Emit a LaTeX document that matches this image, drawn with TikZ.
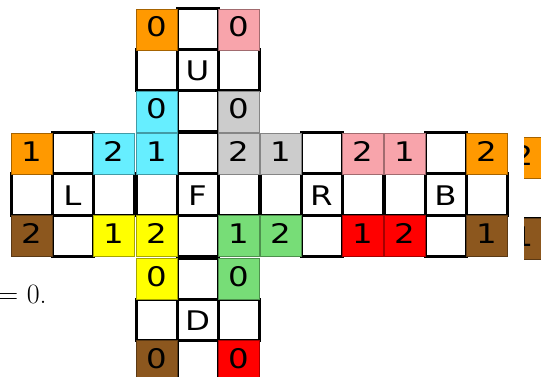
\documentclass[tikz,border=0pt]{standalone}
\usepackage{fontspec}
\newfontfamily\cellfont[FakeStretch=1.2]{DejaVu Sans}
\newfontfamily\eqfont{Latin Modern Roman}
\definecolor{cor}{RGB}{255,153,0}
\definecolor{cpk}{RGB}{248,164,171}
\definecolor{ccy}{RGB}{102,238,255}
\definecolor{cgy}{RGB}{204,204,204}
\definecolor{cye}{RGB}{255,255,0}
\definecolor{cgr}{RGB}{119,221,119}
\definecolor{crd}{RGB}{255,0,0}
\definecolor{cbr}{RGB}{140,87,30}
\tikzset{
  cellbase/.style={rectangle, minimum size=41pt, inner sep=0pt, outer sep=0pt, anchor=north west,
    font=\cellfont\fontsize{27}{27}\selectfont},
  wcell/.style={cellbase, fill=white, draw=black, line width=3pt, text height=21pt, text depth=0pt},
  ccell/.style={cellbase, fill=#1, draw=#1!65!black, line width=0.9pt, text height=20pt, text depth=5pt},
}
\begin{document}
\begin{tikzpicture}[x=1pt,y=-1pt]
\clip (0,0) rectangle (541,377);
\fill[white] (0,0) rectangle (541,377);
\def\xs{{11,52,93,136,177,218,260,301,342,384,425,466}}
\def\ys{{9,50,91,133,174,215,258,299,340}}
% white cells
\foreach \c/\r/\t in {4/0/,3/1/,4/1/U,5/1/,4/2/,
  1/3/,4/3/,7/3/,10/3/,
  0/4/,1/4/L,2/4/,3/4/,4/4/F,5/4/,6/4/,7/4/R,8/4/,9/4/,10/4/B,11/4/,
  1/5/,4/5/,7/5/,10/5/,
  4/6/,3/7/,4/7/D,5/7/,4/8/}{
  \pgfmathsetmacro\px{\xs[\c]}
  \pgfmathsetmacro\py{\ys[\r]}
  \node[wcell] (c-\c-\r) at (\px,\py) {\t};
}
% coloured cells
\foreach \c/\r/\k/\t in {3/0/cor/0,5/0/cpk/0,3/2/ccy/0,5/2/cgy/0,
  0/3/cor/1,2/3/ccy/2,3/3/ccy/1,5/3/cgy/2,6/3/cgy/1,8/3/cpk/2,9/3/cpk/1,11/3/cor/2,
  0/5/cbr/2,2/5/cye/1,3/5/cye/2,5/5/cgr/1,6/5/cgr/2,8/5/crd/1,9/5/crd/2,11/5/cbr/1,
  3/6/cye/0,5/6/cgr/0,3/8/cbr/0,5/8/crd/0}{
  \pgfmathsetmacro\px{\xs[\c]}
  \pgfmathsetmacro\py{\ys[\r]}
  \node[ccell=\k] (c-\c-\r) at (\px,\py) {\t};
}
% cut-off neighbour on the right
\begin{scope}
\clip (524,120) rectangle (541,270);
\node[wcell] (n-w) at (502.5,177.5) {};
\node[ccell=cor] (n-o) at (502.5,137) {2};
\node[ccell=cbr] (n-b) at (502.5,218) {1};
\end{scope}
\node[anchor=base west, inner sep=0pt, font=\eqfont\fontsize{28}{28}\selectfont] (eq) at (-2,303.5) {= 0.};
\end{tikzpicture}
\end{document}
